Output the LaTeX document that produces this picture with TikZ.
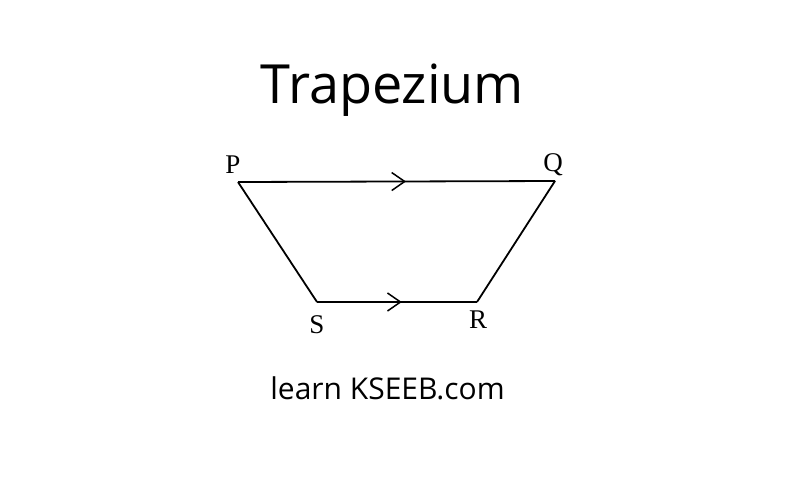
\documentclass[tikz,border=0pt]{standalone}
\usepackage{fontspec}
\setmainfont{Open Sans}
\newfontfamily\labelfont{Liberation Serif}
\usetikzlibrary{arrows.meta,decorations.markings}

\tikzset{
  titletext/.style={anchor=base, font=\fontsize{54}{64}\selectfont},
  sitetext/.style={anchor=base, font=\fontsize{30}{36}\selectfont},
  vertexlabel/.style={anchor=base, font=\labelfont\fontsize{27}{32}\selectfont},
  trapside/.style={line width=1.8pt, black},
  parallelmark/.style={trapside, postaction={decorate}, decoration={markings,
      mark=at position 0.53 with {\arrow{Straight Barb[length=13pt,width=18pt,line width=1.5pt]}}}}
}

\begin{document}
\begin{tikzpicture}[x=1pt,y=-1pt]
  \useasboundingbox (0,0) rectangle (786,485);

  % corners
  \coordinate (P) at (238,182);
  \coordinate (Q) at (555,181);
  \coordinate (R) at (477,302);
  \coordinate (S) at (317,302);

  % sides
  \draw[parallelmark] (P) -- (Q);
  \draw[trapside] (Q) -- (R);
  \draw[parallelmark] (S) -- (R);
  \draw[trapside] (S) -- (P);

  % vertex labels
  \node[vertexlabel] (lP) at (233,173) {P};
  \node[vertexlabel] (lQ) at (553,171) {Q};
  \node[vertexlabel] (lS) at (317,333) {S};
  \node[vertexlabel] (lR) at (478,328) {R};

  % texts
  \node[titletext] (title) at (392.5,103) {Trapezium};
  \node[sitetext] (site) at (387.5,399) {learn KSEEB.com};
\end{tikzpicture}
\end{document}
